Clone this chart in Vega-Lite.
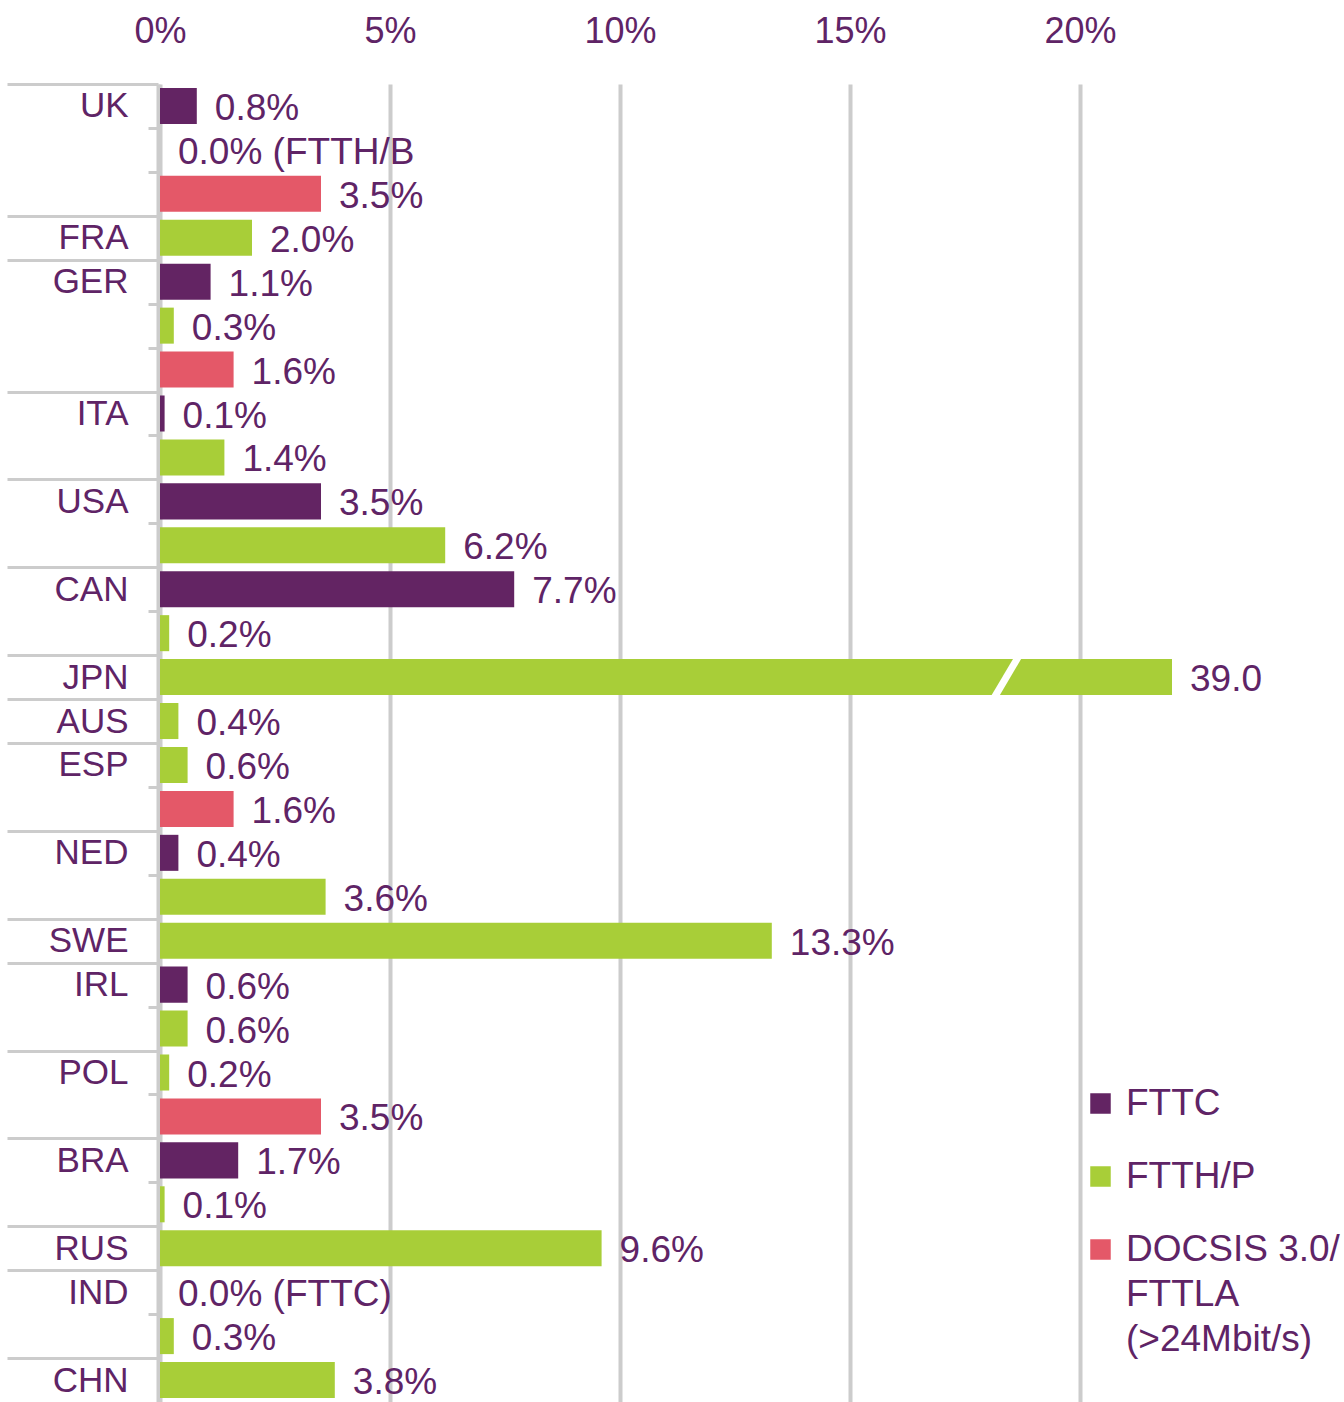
{
  "$schema": "https://vega.github.io/schema/vega-lite/v6.json",
  "autosize": {"type": "none"},
  "padding": {"left": 160, "top": 84, "right": 172, "bottom": 0},
  "width": 1012,
  "height": 1318,
  "background": "white",
  "config": {
    "font": "Liberation Sans",
    "view": {"stroke": null},
    "style": {"guide-label": {"lineHeight": 45}}
  },
  "datasets": {
    "rows": [
      {"row": "UK", "country": "UK", "tech": "FTTC", "value": 0.8, "label": "0.8%"},
      {"row": "UK FTTH/P", "country": "UK", "tech": "FTTH/P", "value": 0.0, "label": "0.0% (FTTH/B"},
      {"row": "UK DOCSIS", "country": "UK", "tech": "DOCSIS 3.0/FTTLA (>24Mbit/s)", "value": 3.5, "label": "3.5%"},
      {"row": "FRA", "country": "FRA", "tech": "FTTH/P", "value": 2.0, "label": "2.0%"},
      {"row": "GER", "country": "GER", "tech": "FTTC", "value": 1.1, "label": "1.1%"},
      {"row": "GER FTTH/P", "country": "GER", "tech": "FTTH/P", "value": 0.3, "label": "0.3%"},
      {"row": "GER DOCSIS", "country": "GER", "tech": "DOCSIS 3.0/FTTLA (>24Mbit/s)", "value": 1.6, "label": "1.6%"},
      {"row": "ITA", "country": "ITA", "tech": "FTTC", "value": 0.1, "label": "0.1%"},
      {"row": "ITA FTTH/P", "country": "ITA", "tech": "FTTH/P", "value": 1.4, "label": "1.4%"},
      {"row": "USA", "country": "USA", "tech": "FTTC", "value": 3.5, "label": "3.5%"},
      {"row": "USA FTTH/P", "country": "USA", "tech": "FTTH/P", "value": 6.2, "label": "6.2%"},
      {"row": "CAN", "country": "CAN", "tech": "FTTC", "value": 7.7, "label": "7.7%"},
      {"row": "CAN FTTH/P", "country": "CAN", "tech": "FTTH/P", "value": 0.2, "label": "0.2%"},
      {"row": "JPN", "country": "JPN", "tech": "FTTH/P", "value": 39.0, "label": "39.0"},
      {"row": "AUS", "country": "AUS", "tech": "FTTH/P", "value": 0.4, "label": "0.4%"},
      {"row": "ESP", "country": "ESP", "tech": "FTTH/P", "value": 0.6, "label": "0.6%"},
      {"row": "ESP DOCSIS", "country": "ESP", "tech": "DOCSIS 3.0/FTTLA (>24Mbit/s)", "value": 1.6, "label": "1.6%"},
      {"row": "NED", "country": "NED", "tech": "FTTC", "value": 0.4, "label": "0.4%"},
      {"row": "NED FTTH/P", "country": "NED", "tech": "FTTH/P", "value": 3.6, "label": "3.6%"},
      {"row": "SWE", "country": "SWE", "tech": "FTTH/P", "value": 13.3, "label": "13.3%"},
      {"row": "IRL", "country": "IRL", "tech": "FTTC", "value": 0.6, "label": "0.6%"},
      {"row": "IRL FTTH/P", "country": "IRL", "tech": "FTTH/P", "value": 0.6, "label": "0.6%"},
      {"row": "POL", "country": "POL", "tech": "FTTH/P", "value": 0.2, "label": "0.2%"},
      {"row": "POL DOCSIS", "country": "POL", "tech": "DOCSIS 3.0/FTTLA (>24Mbit/s)", "value": 3.5, "label": "3.5%"},
      {"row": "BRA", "country": "BRA", "tech": "FTTC", "value": 1.7, "label": "1.7%"},
      {"row": "BRA FTTH/P", "country": "BRA", "tech": "FTTH/P", "value": 0.1, "label": "0.1%"},
      {"row": "RUS", "country": "RUS", "tech": "FTTH/P", "value": 9.6, "label": "9.6%"},
      {"row": "IND", "country": "IND", "tech": "FTTC", "value": 0.0, "label": "0.0% (FTTC)"},
      {"row": "IND FTTH/P", "country": "IND", "tech": "FTTH/P", "value": 0.3, "label": "0.3%"},
      {"row": "CHN", "country": "CHN", "tech": "FTTH/P", "value": 3.8, "label": "3.8%"}
    ],
    "breaks": [
      {"row": "JPN", "value": 18.4}
    ]
  },
  "encoding": {
    "y": {
      "field": "row",
      "type": "nominal",
      "sort": null,
      "scale": {"paddingInner": 0.18, "paddingOuter": 0.09, "domain": ["UK","UK FTTH/P","UK DOCSIS","FRA","GER","GER FTTH/P","GER DOCSIS","ITA","ITA FTTH/P","USA","USA FTTH/P","CAN","CAN FTTH/P","JPN","AUS","ESP","ESP DOCSIS","NED","NED FTTH/P","SWE","IRL","IRL FTTH/P","POL","POL DOCSIS","BRA","BRA FTTH/P","RUS","IND","IND FTTH/P","CHN"]},
      "axis": {
        "title": null,
        "orient": "left",
        "offset": 2,
        "domainColor": "#CCCCCC",
        "domainWidth": 4,
        "tickColor": "#CCCCCC",
        "tickWidth": 3,
        "tickOffset": -22,
        "tickSize": {"condition": {"test": "indexof(datum.value, ' ') < 0", "value": 151}, "value": 10},
        "labelExpr": "indexof(datum.value, ' ') >= 0 ? '' : datum.value",
        "labelFontSize": 35,
        "labelColor": "#5F2466",
        "labelPadding": -121,
        "labelOffset": 22,
        "labelLimit": 200
      }
    }
  },
  "layer": [
    {
      "data": {"name": "rows"},
      "mark": {"type": "bar", "clip": false},
      "encoding": {
        "x": {
          "field": "value",
          "type": "quantitative",
          "scale": {"domain": [0, 22], "clamp": true, "nice": false, "zero": true},
          "axis": {
            "title": null,
            "orient": "top",
            "values": [0, 5, 10, 15, 20],
            "labelExpr": "datum.value + '%'",
            "labelFontSize": 36,
            "labelColor": "#5F2466",
            "labelPadding": 34,
            "labelFlush": false,
            "ticks": false,
            "domain": false,
            "grid": true,
            "gridColor": "#CCCCCC",
            "gridWidth": 4
          }
        },
        "color": {
          "field": "tech",
          "type": "nominal",
          "scale": {
            "domain": ["FTTC", "FTTH/P", "DOCSIS 3.0/FTTLA (>24Mbit/s)"],
            "range": ["#632463", "#A8CE38", "#E45868"]
          },
          "legend": {
            "title": null,
            "orient": "none",
            "legendX": 922,
            "legendY": 1001,
            "padding": 0,
            "symbolType": "square",
            "symbolSize": 420,
            "symbolStrokeWidth": 0,
            "labelFontSize": 37,
            "labelColor": "#5F2466",
            "labelOffset": 7,
            "labelLimit": 300,
            "rowPadding": 35,
            "labelExpr": "datum.label == 'DOCSIS 3.0/FTTLA (>24Mbit/s)' ? ['DOCSIS 3.0/', 'FTTLA', '(>24Mbit/s)'] : datum.label"
          }
        }
      }
    },
    {
      "data": {"name": "breaks"},
      "mark": {"type": "point", "shape": "M-0.65,1.1L0.65,-1.1", "size": 1296, "filled": false, "stroke": "white", "strokeWidth": 7, "opacity": 1},
      "encoding": {
        "x": {"field": "value", "type": "quantitative"}
      }
    },
    {
      "data": {"name": "rows"},
      "mark": {"type": "text", "align": "left", "baseline": "middle", "dx": 18, "dy": 3, "fontSize": 37, "color": "#5F2466"},
      "encoding": {
        "x": {"field": "value", "type": "quantitative"},
        "text": {"field": "label"}
      }
    }
  ]
}
